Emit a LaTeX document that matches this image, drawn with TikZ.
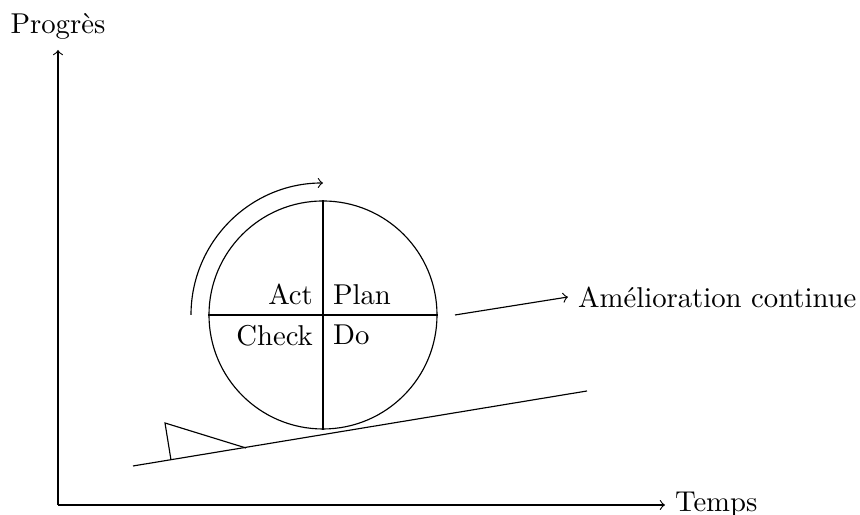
\documentclass[tikz,border=0pt]{standalone}
\begin{document}
\begin{tikzpicture}[x=0.3485pt,y=0.3485pt,
  lbl/.style={inner sep=3.33pt}]
\useasboundingbox (0,0) rectangle (860,515);
% axes
\coordinate (O) at (58,10);
\coordinate (ytop) at (58,465);
\coordinate (xend) at (665,10);
\draw[->] (O) -- (ytop) node[above] (prog) {Progrès};
\draw[->] (O) -- (xend) node[right] (temps) {Temps};
% ramp and wedge
\coordinate (r1) at (133,49);
\coordinate (r2) at (587,124);
\draw (r1) -- (r2);
\coordinate (w1) at (165,92);
\coordinate (w2) at (171,55);
\coordinate (w3) at (246,67);
\draw (w2) -- (w1) -- (w3);
% wheel
\node[circle,draw,minimum size=79.46pt,inner sep=0pt] (pdca) at (323,200) {};
\draw (pdca.north) -- (pdca.south);
\draw (pdca.west) -- (pdca.east);
\node[lbl,anchor=south east] (act) at (pdca.center) {Act};
\node[lbl,anchor=south west] (plan) at (pdca.center) {Plan};
\node[lbl,anchor=north east] (check) at (pdca.center) {Check};
\node[lbl,anchor=north west] (do) at (pdca.center) {Do};
% rotation arrow
\coordinate (a1) at (191,200);
\draw[->] (a1) arc[start angle=180,end angle=90,radius=132];
% improvement arrow
\coordinate (i1) at (455,200);
\coordinate (i2) at (568,218);
\draw[->] (i1) -- (i2) node[right] (amel) {Amélioration continue};
\end{tikzpicture}
\end{document}
